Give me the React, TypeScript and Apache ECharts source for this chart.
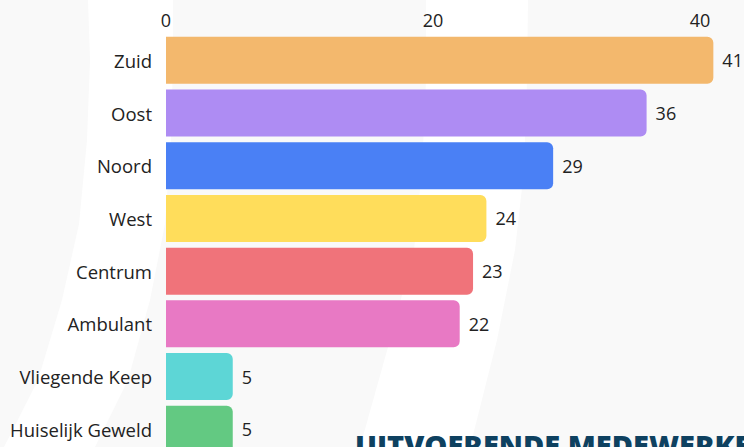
import React, { useEffect, useRef } from "react";
import * as echarts from "echarts";

const categories = [
  "Zuid",
  "Oost",
  "Noord",
  "West",
  "Centrum",
  "Ambulant",
  "Vliegende Keep",
  "Huiselijk Geweld",
];
const values = [41, 36, 29, 24, 23, 22, 5, 5];
const barColors = [
  "#f3b86d",
  "#ae8cf3",
  "#4a80f5",
  "#ffdd5b",
  "#f0737a",
  "#e879c4",
  "#5dd6d6",
  "#63c982",
];
const tickValues = [0, 20, 40];
const footerTitle = "UITVOERENDE MEDEWERKERS";

const FONT = "'Open Sans', 'Noto Sans', sans-serif";

export default function App() {
  const ref = useRef<HTMLDivElement>(null);

  useEffect(() => {
    if (!ref.current) return;
    const chart = echarts.init(ref.current, undefined, { renderer: "svg" });

    const bandA = [
      [88, 0], [90, 60], [87, 140], [79, 224], [62, 300], [38, 380], [4, 447], [0, 470],
      [80, 470], [95, 447], [128, 380], [150, 300], [165, 224], [171, 140], [173, 60], [173, 0],
    ];
    const bandB = [
      [426, 0], [426, 80], [422, 170], [414, 250], [390, 340], [360, 447], [352, 470],
      [462, 470], [470, 447], [497, 340], [515, 250], [524, 170], [527, 80], [528, 0],
    ];

    chart.setOption({
      animation: false,
      backgroundColor: "#f9f9f9",
      textStyle: { fontFamily: FONT },
      graphic: [
        {
          type: "polygon",
          z: 0,
          silent: true,
          shape: { points: bandA },
          style: { fill: "#ffffff" },
        },
        {
          type: "polygon",
          z: 0,
          silent: true,
          shape: { points: bandB },
          style: { fill: "#ffffff" },
        },
        {
          type: "text",
          z: 5,
          left: 355,
          top: 430,
          silent: true,
          style: {
            text: footerTitle,
            fill: "#0e4160",
            font: `800 29px ${FONT}`,
          },
        },
      ],
      grid: {
        left: 166,
        top: 34,
        width: 547.35,
        height: 421.6,
        containLabel: false,
      },
      xAxis: {
        type: "value",
        position: "top",
        min: 0,
        max: 41,
        interval: 20,
        axisLine: { show: false },
        axisTick: { show: false },
        splitLine: { show: false },
        axisLabel: {
          show: true,
          showMaxLabel: false,
          fontSize: 18,
          color: "#222222",
          fontFamily: FONT,
          margin: 5,
          formatter: (v: number) => (tickValues.includes(v) ? String(v) : ""),
        },
      },
      yAxis: {
        type: "category",
        inverse: true,
        data: categories,
        axisLine: { show: false },
        axisTick: { show: false },
        splitLine: { show: false },
        axisLabel: {
          fontSize: 18.5,
          color: "#222222",
          fontFamily: FONT,
          margin: 14,
        },
      },
      series: [
        {
          type: "bar",
          barWidth: 47,
          data: values.map((v, i) => ({
            value: v,
            itemStyle: { color: barColors[i] },
          })),
          itemStyle: { borderRadius: [0, 6, 6, 0] },
          label: {
            show: true,
            position: "right",
            distance: 9,
            fontSize: 18,
            color: "#222222",
            fontFamily: FONT,
          },
        },
      ],
    });

    return () => {
      chart.dispose();
    };
  }, []);

  return (
    <div
      style={{
        position: "fixed",
        left: 0,
        top: 0,
        width: 744,
        height: 447,
        overflow: "hidden",
      }}
    >
      <div ref={ref} style={{ width: 744, height: 470 }} />
    </div>
  );
}
